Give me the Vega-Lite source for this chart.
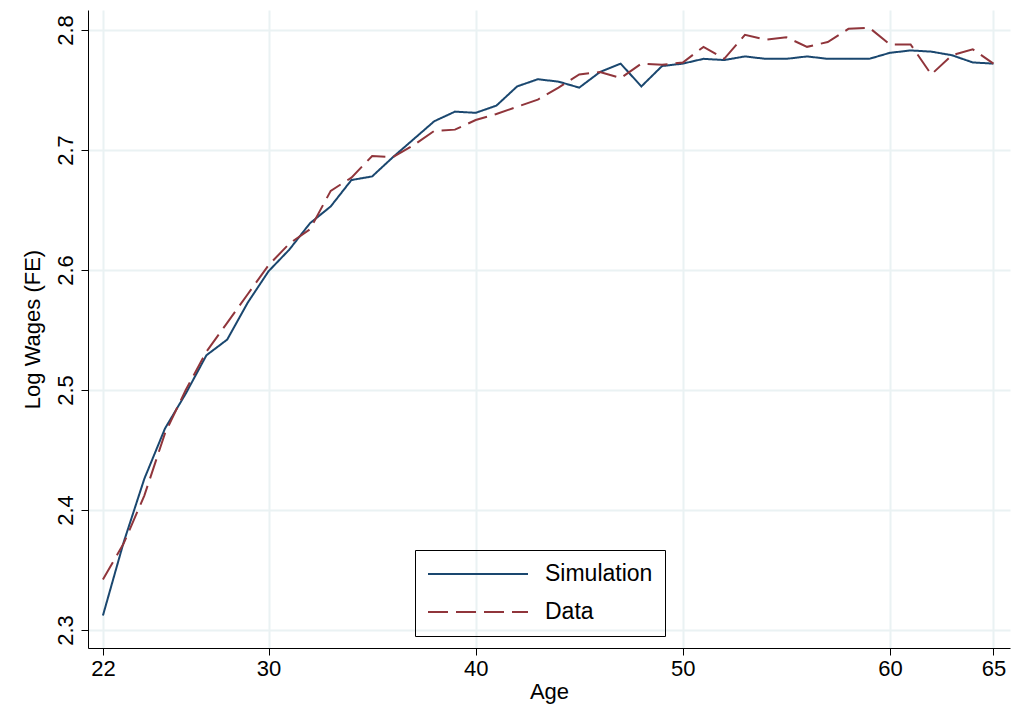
{
  "$schema": "https://vega.github.io/schema/vega-lite/v6.json",
  "width": 922,
  "height": 638,
  "autosize": {"type": "none"},
  "padding": {"left": 88, "top": 10, "right": 4, "bottom": 73},
  "background": "white",
  "config": {
    "font": "Liberation Sans",
    "view": {"stroke": null},
    "axis": {"gridColor": "#eaf2f3", "gridWidth": 2, "domainColor": "black", "tickColor": "black", "labelColor": "black", "titleColor": "black", "labelFontSize": 22, "titleFontSize": 22, "titleFontWeight": "normal", "tickSize": 7}
  },
  "data": {
    "values": [
      {"age": 22, "series": "Simulation", "w": 2.312}, {"age": 23, "series": "Simulation", "w": 2.373}, {"age": 24, "series": "Simulation", "w": 2.426}, {"age": 25, "series": "Simulation", "w": 2.468}, {"age": 26, "series": "Simulation", "w": 2.497}, {"age": 27, "series": "Simulation", "w": 2.529}, {"age": 28, "series": "Simulation", "w": 2.542}, {"age": 29, "series": "Simulation", "w": 2.573}, {"age": 30, "series": "Simulation", "w": 2.599}, {"age": 31, "series": "Simulation", "w": 2.617}, {"age": 32, "series": "Simulation", "w": 2.639}, {"age": 33, "series": "Simulation", "w": 2.653}, {"age": 34, "series": "Simulation", "w": 2.675}, {"age": 35, "series": "Simulation", "w": 2.678}, {"age": 36, "series": "Simulation", "w": 2.694}, {"age": 37, "series": "Simulation", "w": 2.709}, {"age": 38, "series": "Simulation", "w": 2.724}, {"age": 39, "series": "Simulation", "w": 2.732}, {"age": 40, "series": "Simulation", "w": 2.731}, {"age": 41, "series": "Simulation", "w": 2.737}, {"age": 42, "series": "Simulation", "w": 2.753}, {"age": 43, "series": "Simulation", "w": 2.759}, {"age": 44, "series": "Simulation", "w": 2.757}, {"age": 45, "series": "Simulation", "w": 2.752}, {"age": 46, "series": "Simulation", "w": 2.765}, {"age": 47, "series": "Simulation", "w": 2.772}, {"age": 48, "series": "Simulation", "w": 2.753}, {"age": 49, "series": "Simulation", "w": 2.770}, {"age": 50, "series": "Simulation", "w": 2.772}, {"age": 51, "series": "Simulation", "w": 2.776}, {"age": 52, "series": "Simulation", "w": 2.775}, {"age": 53, "series": "Simulation", "w": 2.778}, {"age": 54, "series": "Simulation", "w": 2.776}, {"age": 55, "series": "Simulation", "w": 2.776}, {"age": 56, "series": "Simulation", "w": 2.778}, {"age": 57, "series": "Simulation", "w": 2.776}, {"age": 58, "series": "Simulation", "w": 2.776}, {"age": 59, "series": "Simulation", "w": 2.776}, {"age": 60, "series": "Simulation", "w": 2.781}, {"age": 61, "series": "Simulation", "w": 2.783}, {"age": 62, "series": "Simulation", "w": 2.782}, {"age": 63, "series": "Simulation", "w": 2.779}, {"age": 64, "series": "Simulation", "w": 2.773}, {"age": 65, "series": "Simulation", "w": 2.772},
      {"age": 22, "series": "Data", "w": 2.342}, {"age": 23, "series": "Data", "w": 2.372}, {"age": 24, "series": "Data", "w": 2.412}, {"age": 25, "series": "Data", "w": 2.464}, {"age": 26, "series": "Data", "w": 2.500}, {"age": 27, "series": "Data", "w": 2.532}, {"age": 28, "series": "Data", "w": 2.556}, {"age": 29, "series": "Data", "w": 2.580}, {"age": 30, "series": "Data", "w": 2.604}, {"age": 31, "series": "Data", "w": 2.622}, {"age": 32, "series": "Data", "w": 2.634}, {"age": 33, "series": "Data", "w": 2.666}, {"age": 34, "series": "Data", "w": 2.677}, {"age": 35, "series": "Data", "w": 2.695}, {"age": 36, "series": "Data", "w": 2.694}, {"age": 37, "series": "Data", "w": 2.704}, {"age": 38, "series": "Data", "w": 2.716}, {"age": 39, "series": "Data", "w": 2.717}, {"age": 40, "series": "Data", "w": 2.725}, {"age": 41, "series": "Data", "w": 2.730}, {"age": 42, "series": "Data", "w": 2.736}, {"age": 43, "series": "Data", "w": 2.742}, {"age": 44, "series": "Data", "w": 2.752}, {"age": 45, "series": "Data", "w": 2.763}, {"age": 46, "series": "Data", "w": 2.765}, {"age": 47, "series": "Data", "w": 2.760}, {"age": 48, "series": "Data", "w": 2.772}, {"age": 49, "series": "Data", "w": 2.771}, {"age": 50, "series": "Data", "w": 2.773}, {"age": 51, "series": "Data", "w": 2.786}, {"age": 52, "series": "Data", "w": 2.776}, {"age": 53, "series": "Data", "w": 2.796}, {"age": 54, "series": "Data", "w": 2.792}, {"age": 55, "series": "Data", "w": 2.794}, {"age": 56, "series": "Data", "w": 2.786}, {"age": 57, "series": "Data", "w": 2.790}, {"age": 58, "series": "Data", "w": 2.801}, {"age": 59, "series": "Data", "w": 2.802}, {"age": 60, "series": "Data", "w": 2.788}, {"age": 61, "series": "Data", "w": 2.788}, {"age": 62, "series": "Data", "w": 2.763}, {"age": 63, "series": "Data", "w": 2.779}, {"age": 64, "series": "Data", "w": 2.784}, {"age": 65, "series": "Data", "w": 2.772}
    ]
  },
  "mark": {"type": "line", "strokeWidth": 2},
  "encoding": {
    "x": {"field": "age", "type": "quantitative", "title": "Age",
      "scale": {"domain": [21.28, 65.8], "nice": false, "zero": false},
      "axis": {"values": [22, 30, 40, 50, 60, 65], "titlePadding": 2, "labelPadding": 3}},
    "y": {"field": "w", "type": "quantitative", "title": "Log Wages (FE)",
      "scale": {"domain": [2.285, 2.8167], "nice": false, "zero": false},
      "axis": {"values": [2.3, 2.4, 2.5, 2.6, 2.7, 2.8], "format": ".1f", "labelAngle": -90, "labelAlign": "center", "labelBaseline": "bottom", "labelPadding": 4, "titlePadding": 10}},
    "color": {"field": "series", "type": "nominal", "sort": ["Simulation", "Data"],
      "scale": {"domain": ["Simulation", "Data"], "range": ["#1a476f", "#90353b"]},
      "legend": {"title": null, "orient": "none", "legendX": 327, "legendY": 540, "symbolType": "stroke", "symbolSize": 10000, "symbolStrokeWidth": 2, "clipHeight": 24, "labelFontSize": 23, "labelColor": "black", "rowPadding": 14, "padding": 12, "strokeColor": "black", "labelOffset": 16, "labelLimit": 200, "offset": 0}},
    "strokeDash": {"field": "series", "type": "nominal", "sort": ["Simulation", "Data"],
      "scale": {"domain": ["Simulation", "Data"], "range": [[1, 0], [20, 8]]}, "legend": null}
  }
}
